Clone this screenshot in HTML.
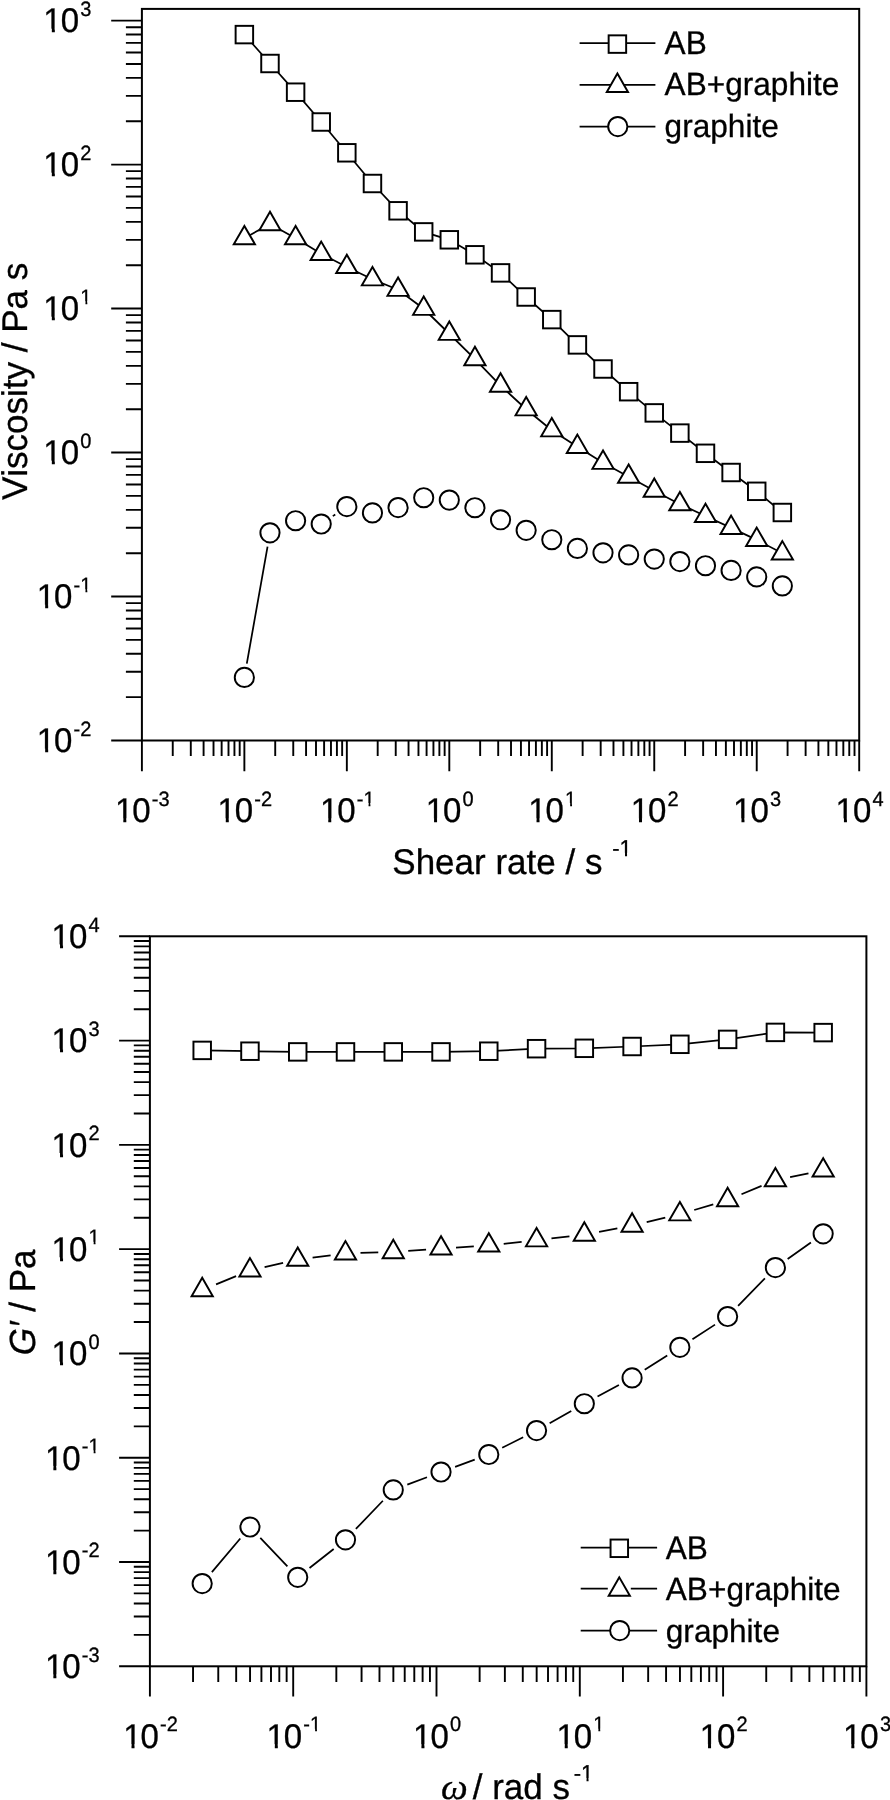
<!DOCTYPE html>
<html><head><meta charset="utf-8"><title>Viscosity and G' plots</title>
<style>html,body{margin:0;padding:0;background:#fff;}body{width:890px;height:1800px;overflow:hidden;}svg{display:block;will-change:transform;}text{font-family:"Liberation Sans", sans-serif;fill:#000;stroke:#000;stroke-width:0.3px;font-kerning:none;text-rendering:geometricPrecision;}.ax{stroke:#000;stroke-width:2.0;fill:none;stroke-linecap:square;}.tk{stroke:#000;stroke-width:1.9;fill:none;}.ln{stroke:#000;stroke-width:1.75;fill:none;}.mk{stroke:#000;stroke-width:1.95;fill:#fff;stroke-linejoin:miter;}</style></head><body>
<svg width="890" height="1800" viewBox="0 0 890 1800">
<rect x="0" y="0" width="890" height="1800" fill="#fff"/>

<path d="M111.2 740.5H141.9M125.9 697.16H141.9M125.9 671.8H141.9M125.9 653.82H141.9M125.9 639.86H141.9M125.9 628.46H141.9M125.9 618.82H141.9M125.9 610.47H141.9M125.9 603.11H141.9M111.2 596.52H141.9M125.9 553.18H141.9M125.9 527.82H141.9M125.9 509.84H141.9M125.9 495.88H141.9M125.9 484.48H141.9M125.9 474.84H141.9M125.9 466.49H141.9M125.9 459.13H141.9M111.2 452.54H141.9M125.9 409.2H141.9M125.9 383.84H141.9M125.9 365.86H141.9M125.9 351.9H141.9M125.9 340.5H141.9M125.9 330.86H141.9M125.9 322.51H141.9M125.9 315.15H141.9M111.2 308.56H141.9M125.9 265.22H141.9M125.9 239.86H141.9M125.9 221.88H141.9M125.9 207.92H141.9M125.9 196.52H141.9M125.9 186.88H141.9M125.9 178.53H141.9M125.9 171.17H141.9M111.2 164.58H141.9M125.9 121.24H141.9M125.9 95.88H141.9M125.9 77.9H141.9M125.9 63.94H141.9M125.9 52.54H141.9M125.9 42.9H141.9M125.9 34.55H141.9M125.9 27.19H141.9M111.2 20.6H141.9M141.9 740.5V771.2M172.75 740.5V756.1M190.79 740.5V756.1M203.59 740.5V756.1M213.52 740.5V756.1M221.64 740.5V756.1M228.5 740.5V756.1M234.44 740.5V756.1M239.68 740.5V756.1M244.37 740.5V771.2M275.22 740.5V756.1M293.26 740.5V756.1M306.07 740.5V756.1M316 740.5V756.1M324.11 740.5V756.1M330.97 740.5V756.1M336.91 740.5V756.1M342.15 740.5V756.1M346.84 740.5V771.2M377.69 740.5V756.1M395.73 740.5V756.1M408.54 740.5V756.1M418.47 740.5V756.1M426.58 740.5V756.1M433.44 740.5V756.1M439.38 740.5V756.1M444.63 740.5V756.1M449.31 740.5V771.2M480.16 740.5V756.1M498.21 740.5V756.1M511.01 740.5V756.1M520.94 740.5V756.1M529.05 740.5V756.1M535.91 740.5V756.1M541.86 740.5V756.1M547.1 740.5V756.1M551.79 740.5V771.2M582.63 740.5V756.1M600.68 740.5V756.1M613.48 740.5V756.1M623.41 740.5V756.1M631.52 740.5V756.1M638.38 740.5V756.1M644.33 740.5V756.1M649.57 740.5V756.1M654.26 740.5V771.2M685.1 740.5V756.1M703.15 740.5V756.1M715.95 740.5V756.1M725.88 740.5V756.1M734 740.5V756.1M740.86 740.5V756.1M746.8 740.5V756.1M752.04 740.5V756.1M756.73 740.5V771.2M787.58 740.5V756.1M805.62 740.5V756.1M818.42 740.5V756.1M828.35 740.5V756.1M836.47 740.5V756.1M843.33 740.5V756.1M849.27 740.5V756.1M854.51 740.5V756.1M859.2 740.5V771.2" class="tk"/>
<rect x="141.9" y="8.9" width="717.3" height="731.6" class="ax"/>
<text x="0" y="0" text-anchor="end" transform="translate(90.4 752.3) scale(1 1.040)"><tspan font-size="33"><tspan dx="1">1</tspan><tspan dx="-1">0</tspan></tspan><tspan font-size="20" dy="-15.87" dx="1.2">-2</tspan></text><g fill="#fff"><rect x="38.03" y="748.62" width="7.13" height="5.28"/><rect x="48.18" y="748.62" width="6.87" height="5.28"/></g>
<text x="0" y="0" text-anchor="end" transform="translate(90.4 608.32) scale(1 1.040)"><tspan font-size="33"><tspan dx="1">1</tspan><tspan dx="-1">0</tspan></tspan><tspan font-size="20" dy="-15.87" dx="1.2">-1</tspan></text><g fill="#fff"><rect x="38.03" y="604.64" width="7.13" height="5.28"/><rect x="48.18" y="604.64" width="6.87" height="5.28"/><rect x="80.64" y="589.19" width="4.81" height="4.22"/><rect x="87.32" y="589.19" width="4.66" height="4.22"/></g>
<text x="0" y="0" text-anchor="end" transform="translate(90.4 464.34) scale(1 1.040)"><tspan font-size="33"><tspan dx="1">1</tspan><tspan dx="-1">0</tspan></tspan><tspan font-size="20" dy="-15.87" dx="1.2">0</tspan></text><g fill="#fff"><rect x="44.69" y="460.66" width="7.13" height="5.28"/><rect x="54.84" y="460.66" width="6.87" height="5.28"/></g>
<text x="0" y="0" text-anchor="end" transform="translate(90.4 320.36) scale(1 1.040)"><tspan font-size="33"><tspan dx="1">1</tspan><tspan dx="-1">0</tspan></tspan><tspan font-size="20" dy="-15.87" dx="1.2">1</tspan></text><g fill="#fff"><rect x="44.69" y="316.68" width="7.13" height="5.28"/><rect x="54.84" y="316.68" width="6.87" height="5.28"/><rect x="80.64" y="301.24" width="4.81" height="4.22"/><rect x="87.32" y="301.24" width="4.66" height="4.22"/></g>
<text x="0" y="0" text-anchor="end" transform="translate(90.4 176.38) scale(1 1.040)"><tspan font-size="33"><tspan dx="1">1</tspan><tspan dx="-1">0</tspan></tspan><tspan font-size="20" dy="-15.87" dx="1.2">2</tspan></text><g fill="#fff"><rect x="44.69" y="172.7" width="7.13" height="5.28"/><rect x="54.84" y="172.7" width="6.87" height="5.28"/></g>
<text x="0" y="0" text-anchor="end" transform="translate(90.4 32.4) scale(1 1.040)"><tspan font-size="33"><tspan dx="1">1</tspan><tspan dx="-1">0</tspan></tspan><tspan font-size="20" dy="-15.87" dx="1.2">3</tspan></text><g fill="#fff"><rect x="44.69" y="28.72" width="7.13" height="5.28"/><rect x="54.84" y="28.72" width="6.87" height="5.28"/></g>
<text x="0" y="0" text-anchor="middle" transform="translate(141.3 822.1) scale(1 1.040)"><tspan font-size="33"><tspan dx="1">1</tspan><tspan dx="-1">0</tspan></tspan><tspan font-size="20" dy="-15.87" dx="1.2">-3</tspan></text><g fill="#fff"><rect x="116.17" y="818.42" width="7.13" height="5.28"/><rect x="126.32" y="818.42" width="6.87" height="5.28"/></g>
<text x="0" y="0" text-anchor="middle" transform="translate(243.77 822.1) scale(1 1.040)"><tspan font-size="33"><tspan dx="1">1</tspan><tspan dx="-1">0</tspan></tspan><tspan font-size="20" dy="-15.87" dx="1.2">-2</tspan></text><g fill="#fff"><rect x="218.64" y="818.42" width="7.13" height="5.28"/><rect x="228.79" y="818.42" width="6.87" height="5.28"/></g>
<text x="0" y="0" text-anchor="middle" transform="translate(346.24 822.1) scale(1 1.040)"><tspan font-size="33"><tspan dx="1">1</tspan><tspan dx="-1">0</tspan></tspan><tspan font-size="20" dy="-15.87" dx="1.2">-1</tspan></text><g fill="#fff"><rect x="321.12" y="818.42" width="7.13" height="5.28"/><rect x="331.26" y="818.42" width="6.87" height="5.28"/><rect x="363.73" y="802.98" width="4.81" height="4.22"/><rect x="370.41" y="802.98" width="4.66" height="4.22"/></g>
<text x="0" y="0" text-anchor="middle" transform="translate(448.71 822.1) scale(1 1.040)"><tspan font-size="33"><tspan dx="1">1</tspan><tspan dx="-1">0</tspan></tspan><tspan font-size="20" dy="-15.87" dx="1.2">0</tspan></text><g fill="#fff"><rect x="426.92" y="818.42" width="7.13" height="5.28"/><rect x="437.06" y="818.42" width="6.87" height="5.28"/></g>
<text x="0" y="0" text-anchor="middle" transform="translate(551.19 822.1) scale(1 1.040)"><tspan font-size="33"><tspan dx="1">1</tspan><tspan dx="-1">0</tspan></tspan><tspan font-size="20" dy="-15.87" dx="1.2">1</tspan></text><g fill="#fff"><rect x="529.39" y="818.42" width="7.13" height="5.28"/><rect x="539.54" y="818.42" width="6.87" height="5.28"/><rect x="565.34" y="802.98" width="4.81" height="4.22"/><rect x="572.02" y="802.98" width="4.66" height="4.22"/></g>
<text x="0" y="0" text-anchor="middle" transform="translate(653.66 822.1) scale(1 1.040)"><tspan font-size="33"><tspan dx="1">1</tspan><tspan dx="-1">0</tspan></tspan><tspan font-size="20" dy="-15.87" dx="1.2">2</tspan></text><g fill="#fff"><rect x="631.86" y="818.42" width="7.13" height="5.28"/><rect x="642.01" y="818.42" width="6.87" height="5.28"/></g>
<text x="0" y="0" text-anchor="middle" transform="translate(756.13 822.1) scale(1 1.040)"><tspan font-size="33"><tspan dx="1">1</tspan><tspan dx="-1">0</tspan></tspan><tspan font-size="20" dy="-15.87" dx="1.2">3</tspan></text><g fill="#fff"><rect x="734.33" y="818.42" width="7.13" height="5.28"/><rect x="744.48" y="818.42" width="6.87" height="5.28"/></g>
<text x="0" y="0" text-anchor="middle" transform="translate(858.6 822.1) scale(1 1.040)"><tspan font-size="33"><tspan dx="1">1</tspan><tspan dx="-1">0</tspan></tspan><tspan font-size="20" dy="-15.87" dx="1.2">4</tspan></text><g fill="#fff"><rect x="836.8" y="818.42" width="7.13" height="5.28"/><rect x="846.95" y="818.42" width="6.87" height="5.28"/></g>
<text x="0" y="0" text-anchor="start" transform="translate(392.3 873.8) scale(1 1.020)"><tspan font-size="35">Shear rate / s</tspan></text>
<text x="0" y="0" text-anchor="start" transform="translate(612.2 855.6) scale(1 1.040)"><tspan font-size="22">-1</tspan></text><g fill="#fff"><rect x="619.84" y="852.81" width="5.17" height="4.39"/><rect x="627.05" y="852.81" width="5" height="4.39"/></g>
<text x="0" y="0" text-anchor="start" transform="translate(27 500.1) rotate(-90) scale(1 1.020)"><tspan font-size="35">Viscosity / Pa s</tspan></text>
<polyline points="244.37,34.6 269.99,63.5 295.61,92.2 321.23,122 346.84,152.8 372.46,183.5 398.08,210.8 423.7,231.9 449.31,239.8 474.93,254.8 500.55,272.9 526.17,297 551.79,319.6 577.4,344.9 603.02,369 628.64,391.7 654.26,412.9 679.88,433.1 705.49,453.3 731.11,472.5 756.73,491.3 782.35,512.5" class="ln"/>
<polyline points="244.37,238.15 269.99,224.05 295.61,238.15 321.23,253.85 346.84,266.95 372.46,279.25 398.08,289.75 423.7,308.75 449.31,333.75 474.93,359.05 500.55,385.55 526.17,409.25 551.79,430.25 577.4,446.85 603.02,462.75 628.64,476.65 654.26,490.65 679.88,504.15 705.49,515.95 731.11,527.85 756.73,539.85 782.35,553.35" class="ln"/>
<path d="M246.81 663.61L267.55 546.59M332.81 516.13L335.26 514.47" class="ln"/>
<rect x="235.62" y="25.85" width="17.5" height="17.5" class="mk"/><rect x="261.24" y="54.75" width="17.5" height="17.5" class="mk"/><rect x="286.86" y="83.45" width="17.5" height="17.5" class="mk"/><rect x="312.48" y="113.25" width="17.5" height="17.5" class="mk"/><rect x="338.09" y="144.05" width="17.5" height="17.5" class="mk"/><rect x="363.71" y="174.75" width="17.5" height="17.5" class="mk"/><rect x="389.33" y="202.05" width="17.5" height="17.5" class="mk"/><rect x="414.95" y="223.15" width="17.5" height="17.5" class="mk"/><rect x="440.56" y="231.05" width="17.5" height="17.5" class="mk"/><rect x="466.18" y="246.05" width="17.5" height="17.5" class="mk"/><rect x="491.8" y="264.15" width="17.5" height="17.5" class="mk"/><rect x="517.42" y="288.25" width="17.5" height="17.5" class="mk"/><rect x="543.04" y="310.85" width="17.5" height="17.5" class="mk"/><rect x="568.65" y="336.15" width="17.5" height="17.5" class="mk"/><rect x="594.27" y="360.25" width="17.5" height="17.5" class="mk"/><rect x="619.89" y="382.95" width="17.5" height="17.5" class="mk"/><rect x="645.51" y="404.15" width="17.5" height="17.5" class="mk"/><rect x="671.12" y="424.35" width="17.5" height="17.5" class="mk"/><rect x="696.74" y="444.55" width="17.5" height="17.5" class="mk"/><rect x="722.36" y="463.75" width="17.5" height="17.5" class="mk"/><rect x="747.98" y="482.55" width="17.5" height="17.5" class="mk"/><rect x="773.6" y="503.75" width="17.5" height="17.5" class="mk"/>
<polygon points="244.37,225.91 233.77,244.27 254.97,244.27" class="mk"/><polygon points="269.99,211.81 259.39,230.17 280.59,230.17" class="mk"/><polygon points="295.61,225.91 285.01,244.27 306.21,244.27" class="mk"/><polygon points="321.23,241.61 310.62,259.97 331.83,259.97" class="mk"/><polygon points="346.84,254.71 336.24,273.07 357.44,273.07" class="mk"/><polygon points="372.46,267.01 361.86,285.37 383.06,285.37" class="mk"/><polygon points="398.08,277.51 387.48,295.87 408.68,295.87" class="mk"/><polygon points="423.7,296.51 413.1,314.87 434.3,314.87" class="mk"/><polygon points="449.31,321.51 438.71,339.87 459.91,339.87" class="mk"/><polygon points="474.93,346.81 464.33,365.17 485.53,365.17" class="mk"/><polygon points="500.55,373.31 489.95,391.67 511.15,391.67" class="mk"/><polygon points="526.17,397.01 515.57,415.37 536.77,415.37" class="mk"/><polygon points="551.79,418.01 541.19,436.37 562.39,436.37" class="mk"/><polygon points="577.4,434.61 566.8,452.97 588,452.97" class="mk"/><polygon points="603.02,450.51 592.42,468.87 613.62,468.87" class="mk"/><polygon points="628.64,464.41 618.04,482.77 639.24,482.77" class="mk"/><polygon points="654.26,478.41 643.66,496.77 664.86,496.77" class="mk"/><polygon points="679.88,491.91 669.27,510.27 690.48,510.27" class="mk"/><polygon points="705.49,503.71 694.89,522.07 716.09,522.07" class="mk"/><polygon points="731.11,515.61 720.51,533.97 741.71,533.97" class="mk"/><polygon points="756.73,527.61 746.13,545.97 767.33,545.97" class="mk"/><polygon points="782.35,541.11 771.75,559.47 792.95,559.47" class="mk"/>
<circle cx="244.37" cy="677.4" r="9.6" class="mk"/><circle cx="269.99" cy="532.8" r="9.6" class="mk"/><circle cx="295.61" cy="520.7" r="9.6" class="mk"/><circle cx="321.23" cy="524" r="9.6" class="mk"/><circle cx="346.84" cy="506.6" r="9.6" class="mk"/><circle cx="372.46" cy="512.9" r="9.6" class="mk"/><circle cx="398.08" cy="507.6" r="9.6" class="mk"/><circle cx="423.7" cy="497.7" r="9.6" class="mk"/><circle cx="449.31" cy="500.1" r="9.6" class="mk"/><circle cx="474.93" cy="507.7" r="9.6" class="mk"/><circle cx="500.55" cy="519.8" r="9.6" class="mk"/><circle cx="526.17" cy="530.3" r="9.6" class="mk"/><circle cx="551.79" cy="539.7" r="9.6" class="mk"/><circle cx="577.4" cy="548.4" r="9.6" class="mk"/><circle cx="603.02" cy="552.8" r="9.6" class="mk"/><circle cx="628.64" cy="554.9" r="9.6" class="mk"/><circle cx="654.26" cy="559.1" r="9.6" class="mk"/><circle cx="679.88" cy="561.6" r="9.6" class="mk"/><circle cx="705.49" cy="565.7" r="9.6" class="mk"/><circle cx="731.11" cy="570.4" r="9.6" class="mk"/><circle cx="756.73" cy="576.9" r="9.6" class="mk"/><circle cx="782.35" cy="585.9" r="9.6" class="mk"/>
<path d="M579.6 43H655.4" class="ln"/>
<path d="M579.6 84.8H655.4" class="ln"/>
<path d="M579.6 126.6H655.4" class="ln"/>
<rect x="608.65" y="35.35" width="17.5" height="17.5" class="mk"/>
<polygon points="617.4,73.56 606.8,91.92 628,91.92" class="mk"/>
<circle cx="617.8" cy="126.6" r="9.6" class="mk"/>
<text x="0" y="0" text-anchor="start" transform="translate(664.6 53.5) scale(1 1.040)"><tspan font-size="31.6">AB</tspan></text>
<text x="0" y="0" text-anchor="start" transform="translate(664.6 95.3) scale(1 1.020)"><tspan font-size="31.6">AB+graphite</tspan></text>
<text x="0" y="0" text-anchor="start" transform="translate(664.6 137.1) scale(1 1.020)"><tspan font-size="31.6">graphite</tspan></text>
<path d="M119.1 1666.3H149.9M133.8 1634.91H149.9M133.8 1616.54H149.9M133.8 1603.51H149.9M133.8 1593.41H149.9M133.8 1585.15H149.9M133.8 1578.17H149.9M133.8 1572.12H149.9M133.8 1566.79H149.9M119.1 1562.01H149.9M133.8 1530.62H149.9M133.8 1512.26H149.9M133.8 1499.23H149.9M133.8 1489.12H149.9M133.8 1480.86H149.9M133.8 1473.88H149.9M133.8 1467.83H149.9M133.8 1462.5H149.9M119.1 1457.73H149.9M133.8 1426.34H149.9M133.8 1407.97H149.9M133.8 1394.94H149.9M133.8 1384.84H149.9M133.8 1376.58H149.9M133.8 1369.6H149.9M133.8 1363.55H149.9M133.8 1358.21H149.9M119.1 1353.44H149.9M133.8 1322.05H149.9M133.8 1303.69H149.9M133.8 1290.66H149.9M133.8 1280.55H149.9M133.8 1272.29H149.9M133.8 1265.31H149.9M133.8 1259.26H149.9M133.8 1253.93H149.9M119.1 1249.16H149.9M133.8 1217.76H149.9M133.8 1199.4H149.9M133.8 1186.37H149.9M133.8 1176.26H149.9M133.8 1168.01H149.9M133.8 1161.03H149.9M133.8 1154.98H149.9M133.8 1149.64H149.9M119.1 1144.87H149.9M133.8 1113.48H149.9M133.8 1095.11H149.9M133.8 1082.09H149.9M133.8 1071.98H149.9M133.8 1063.72H149.9M133.8 1056.74H149.9M133.8 1050.69H149.9M133.8 1045.36H149.9M119.1 1040.59H149.9M133.8 1009.19H149.9M133.8 990.83H149.9M133.8 977.8H149.9M133.8 967.69H149.9M133.8 959.44H149.9M133.8 952.45H149.9M133.8 946.41H149.9M133.8 941.07H149.9M119.1 936.3H149.9M149.9 1666.3V1696.4M193.04 1666.3V1682.0M218.27 1666.3V1682.0M236.18 1666.3V1682.0M250.06 1666.3V1682.0M261.41 1666.3V1682.0M271 1666.3V1682.0M279.31 1666.3V1682.0M286.64 1666.3V1682.0M293.2 1666.3V1696.4M336.34 1666.3V1682.0M361.57 1666.3V1682.0M379.48 1666.3V1682.0M393.36 1666.3V1682.0M404.71 1666.3V1682.0M414.3 1666.3V1682.0M422.61 1666.3V1682.0M429.94 1666.3V1682.0M436.5 1666.3V1696.4M479.64 1666.3V1682.0M504.87 1666.3V1682.0M522.78 1666.3V1682.0M536.66 1666.3V1682.0M548.01 1666.3V1682.0M557.6 1666.3V1682.0M565.91 1666.3V1682.0M573.24 1666.3V1682.0M579.8 1666.3V1696.4M622.94 1666.3V1682.0M648.17 1666.3V1682.0M666.08 1666.3V1682.0M679.96 1666.3V1682.0M691.31 1666.3V1682.0M700.9 1666.3V1682.0M709.21 1666.3V1682.0M716.54 1666.3V1682.0M723.1 1666.3V1696.4M766.24 1666.3V1682.0M791.47 1666.3V1682.0M809.38 1666.3V1682.0M823.26 1666.3V1682.0M834.61 1666.3V1682.0M844.2 1666.3V1682.0M852.51 1666.3V1682.0M859.84 1666.3V1682.0M866.4 1666.3V1696.4" class="tk"/>
<rect x="149.9" y="936.3" width="716.5" height="730" class="ax"/>
<text x="0" y="0" text-anchor="end" transform="translate(98.6 1678.1) scale(1 1.040)"><tspan font-size="33"><tspan dx="1">1</tspan><tspan dx="-1">0</tspan></tspan><tspan font-size="20" dy="-15.87" dx="1.2">-3</tspan></text><g fill="#fff"><rect x="46.23" y="1674.42" width="7.13" height="5.28"/><rect x="56.38" y="1674.42" width="6.87" height="5.28"/></g>
<text x="0" y="0" text-anchor="end" transform="translate(98.6 1573.81) scale(1 1.040)"><tspan font-size="33"><tspan dx="1">1</tspan><tspan dx="-1">0</tspan></tspan><tspan font-size="20" dy="-15.87" dx="1.2">-2</tspan></text><g fill="#fff"><rect x="46.23" y="1570.13" width="7.13" height="5.28"/><rect x="56.38" y="1570.13" width="6.87" height="5.28"/></g>
<text x="0" y="0" text-anchor="end" transform="translate(98.6 1469.53) scale(1 1.040)"><tspan font-size="33"><tspan dx="1">1</tspan><tspan dx="-1">0</tspan></tspan><tspan font-size="20" dy="-15.87" dx="1.2">-1</tspan></text><g fill="#fff"><rect x="46.23" y="1465.85" width="7.13" height="5.28"/><rect x="56.38" y="1465.85" width="6.87" height="5.28"/><rect x="88.84" y="1450.4" width="4.81" height="4.22"/><rect x="95.52" y="1450.4" width="4.66" height="4.22"/></g>
<text x="0" y="0" text-anchor="end" transform="translate(98.6 1365.24) scale(1 1.040)"><tspan font-size="33"><tspan dx="1">1</tspan><tspan dx="-1">0</tspan></tspan><tspan font-size="20" dy="-15.87" dx="1.2">0</tspan></text><g fill="#fff"><rect x="52.89" y="1361.56" width="7.13" height="5.28"/><rect x="63.04" y="1361.56" width="6.87" height="5.28"/></g>
<text x="0" y="0" text-anchor="end" transform="translate(98.6 1260.96) scale(1 1.040)"><tspan font-size="33"><tspan dx="1">1</tspan><tspan dx="-1">0</tspan></tspan><tspan font-size="20" dy="-15.87" dx="1.2">1</tspan></text><g fill="#fff"><rect x="52.89" y="1257.28" width="7.13" height="5.28"/><rect x="63.04" y="1257.28" width="6.87" height="5.28"/><rect x="88.84" y="1241.83" width="4.81" height="4.22"/><rect x="95.52" y="1241.83" width="4.66" height="4.22"/></g>
<text x="0" y="0" text-anchor="end" transform="translate(98.6 1156.67) scale(1 1.040)"><tspan font-size="33"><tspan dx="1">1</tspan><tspan dx="-1">0</tspan></tspan><tspan font-size="20" dy="-15.87" dx="1.2">2</tspan></text><g fill="#fff"><rect x="52.89" y="1152.99" width="7.13" height="5.28"/><rect x="63.04" y="1152.99" width="6.87" height="5.28"/></g>
<text x="0" y="0" text-anchor="end" transform="translate(98.6 1052.39) scale(1 1.040)"><tspan font-size="33"><tspan dx="1">1</tspan><tspan dx="-1">0</tspan></tspan><tspan font-size="20" dy="-15.87" dx="1.2">3</tspan></text><g fill="#fff"><rect x="52.89" y="1048.7" width="7.13" height="5.28"/><rect x="63.04" y="1048.7" width="6.87" height="5.28"/></g>
<text x="0" y="0" text-anchor="end" transform="translate(98.6 948.1) scale(1 1.040)"><tspan font-size="33"><tspan dx="1">1</tspan><tspan dx="-1">0</tspan></tspan><tspan font-size="20" dy="-15.87" dx="1.2">4</tspan></text><g fill="#fff"><rect x="52.89" y="944.42" width="7.13" height="5.28"/><rect x="63.04" y="944.42" width="6.87" height="5.28"/></g>
<text x="0" y="0" text-anchor="middle" transform="translate(149.5 1747.9) scale(1 1.040)"><tspan font-size="33"><tspan dx="1">1</tspan><tspan dx="-1">0</tspan></tspan><tspan font-size="20" dy="-15.87" dx="1.2">-2</tspan></text><g fill="#fff"><rect x="124.37" y="1744.22" width="7.13" height="5.28"/><rect x="134.52" y="1744.22" width="6.87" height="5.28"/></g>
<text x="0" y="0" text-anchor="middle" transform="translate(292.8 1747.9) scale(1 1.040)"><tspan font-size="33"><tspan dx="1">1</tspan><tspan dx="-1">0</tspan></tspan><tspan font-size="20" dy="-15.87" dx="1.2">-1</tspan></text><g fill="#fff"><rect x="267.67" y="1744.22" width="7.13" height="5.28"/><rect x="277.82" y="1744.22" width="6.87" height="5.28"/><rect x="310.29" y="1728.78" width="4.81" height="4.22"/><rect x="316.97" y="1728.78" width="4.66" height="4.22"/></g>
<text x="0" y="0" text-anchor="middle" transform="translate(436.1 1747.9) scale(1 1.040)"><tspan font-size="33"><tspan dx="1">1</tspan><tspan dx="-1">0</tspan></tspan><tspan font-size="20" dy="-15.87" dx="1.2">0</tspan></text><g fill="#fff"><rect x="414.3" y="1744.22" width="7.13" height="5.28"/><rect x="424.45" y="1744.22" width="6.87" height="5.28"/></g>
<text x="0" y="0" text-anchor="middle" transform="translate(579.4 1747.9) scale(1 1.040)"><tspan font-size="33"><tspan dx="1">1</tspan><tspan dx="-1">0</tspan></tspan><tspan font-size="20" dy="-15.87" dx="1.2">1</tspan></text><g fill="#fff"><rect x="557.6" y="1744.22" width="7.13" height="5.28"/><rect x="567.75" y="1744.22" width="6.87" height="5.28"/><rect x="593.56" y="1728.78" width="4.81" height="4.22"/><rect x="600.24" y="1728.78" width="4.66" height="4.22"/></g>
<text x="0" y="0" text-anchor="middle" transform="translate(722.7 1747.9) scale(1 1.040)"><tspan font-size="33"><tspan dx="1">1</tspan><tspan dx="-1">0</tspan></tspan><tspan font-size="20" dy="-15.87" dx="1.2">2</tspan></text><g fill="#fff"><rect x="700.9" y="1744.22" width="7.13" height="5.28"/><rect x="711.05" y="1744.22" width="6.87" height="5.28"/></g>
<text x="0" y="0" text-anchor="middle" transform="translate(866 1747.9) scale(1 1.040)"><tspan font-size="33"><tspan dx="1">1</tspan><tspan dx="-1">0</tspan></tspan><tspan font-size="20" dy="-15.87" dx="1.2">3</tspan></text><g fill="#fff"><rect x="844.2" y="1744.22" width="7.13" height="5.28"/><rect x="854.35" y="1744.22" width="6.87" height="5.28"/></g>
<text x="0" y="0" text-anchor="start" transform="translate(441 1799) scale(1.08 1.050)" style="font-family:'Liberation Serif',serif;font-style:italic"><tspan font-size="35">ω</tspan></text>
<text x="0" y="0" text-anchor="start" transform="translate(472.7 1799) scale(1 1.020)"><tspan font-size="35">/ rad s</tspan></text>
<text x="0" y="0" text-anchor="start" transform="translate(573.7 1781) scale(1 1.040)"><tspan font-size="22">-1</tspan></text><g fill="#fff"><rect x="581.34" y="1778.21" width="5.17" height="4.39"/><rect x="588.55" y="1778.21" width="5" height="4.39"/></g>
<text x="0" y="0" transform="translate(35.3 1355.2) rotate(-90) scale(1 1.04)"><tspan font-size="35" style="font-style:italic">G&#8242;</tspan><tspan font-size="35"> / Pa</tspan></text>
<polyline points="202.2,1050.4 249.97,1051.2 297.73,1051.9 345.5,1051.9 393.27,1051.9 441.03,1051.9 488.8,1051.2 536.57,1048.7 584.33,1048.3 632.1,1046.5 679.87,1044.3 727.63,1039.4 775.4,1032.4 823.17,1032.6" class="ln"/>
<path d="M216.07 1284.33L236.1 1276.07M264.6 1267.07L283.1 1262.93M312.6 1257.69L330.63 1255.31M360.49 1252.94L378.27 1252.46M408.22 1250.92L426.08 1249.57M456 1247.51L473.83 1246.39M503.71 1243.82L521.65 1241.87M551.46 1238.47L569.44 1236.32M599.07 1231.77L617.36 1228.32M646.7 1222.09L665.27 1217.7M694.24 1209.97L713.26 1204.32M741.48 1194.28L761.55 1185.92M790.1 1177.16L808.47 1173.43" class="ln"/>
<path d="M211.87 1572.14L240.29 1538.46M260.3 1537.88L287.4 1566.42M309.53 1568.04L333.7 1549.06M355.87 1528.96L382.89 1500.74M407.31 1484.64L426.99 1477.26M455.12 1466.84L474.72 1459.66M502.21 1447.79L523.15 1437.31M549.64 1423.24L571.26 1411.06M597.53 1396.57L618.9 1385.03M644.73 1369.81L667.24 1355.39M692.47 1339.17L715.03 1324.63M738.11 1305.77L764.92 1278.33M787.64 1258.94L810.92 1242.46" class="ln"/>
<rect x="193.45" y="1041.65" width="17.5" height="17.5" class="mk"/><rect x="241.22" y="1042.45" width="17.5" height="17.5" class="mk"/><rect x="288.98" y="1043.15" width="17.5" height="17.5" class="mk"/><rect x="336.75" y="1043.15" width="17.5" height="17.5" class="mk"/><rect x="384.52" y="1043.15" width="17.5" height="17.5" class="mk"/><rect x="432.28" y="1043.15" width="17.5" height="17.5" class="mk"/><rect x="480.05" y="1042.45" width="17.5" height="17.5" class="mk"/><rect x="527.82" y="1039.95" width="17.5" height="17.5" class="mk"/><rect x="575.58" y="1039.55" width="17.5" height="17.5" class="mk"/><rect x="623.35" y="1037.75" width="17.5" height="17.5" class="mk"/><rect x="671.12" y="1035.55" width="17.5" height="17.5" class="mk"/><rect x="718.88" y="1030.65" width="17.5" height="17.5" class="mk"/><rect x="766.65" y="1023.65" width="17.5" height="17.5" class="mk"/><rect x="814.42" y="1023.85" width="17.5" height="17.5" class="mk"/>
<polygon points="202.2,1277.81 191.6,1296.17 212.8,1296.17" class="mk"/><polygon points="249.97,1258.11 239.37,1276.47 260.57,1276.47" class="mk"/><polygon points="297.73,1247.41 287.13,1265.77 308.33,1265.77" class="mk"/><polygon points="345.5,1241.11 334.9,1259.47 356.1,1259.47" class="mk"/><polygon points="393.27,1239.81 382.67,1258.17 403.87,1258.17" class="mk"/><polygon points="441.03,1236.21 430.43,1254.57 451.63,1254.57" class="mk"/><polygon points="488.8,1233.21 478.2,1251.57 499.4,1251.57" class="mk"/><polygon points="536.57,1228.01 525.97,1246.37 547.17,1246.37" class="mk"/><polygon points="584.33,1222.31 573.73,1240.67 594.93,1240.67" class="mk"/><polygon points="632.1,1213.31 621.5,1231.67 642.7,1231.67" class="mk"/><polygon points="679.87,1202.01 669.27,1220.37 690.47,1220.37" class="mk"/><polygon points="727.63,1187.81 717.03,1206.17 738.23,1206.17" class="mk"/><polygon points="775.4,1167.91 764.8,1186.27 786,1186.27" class="mk"/><polygon points="823.17,1158.21 812.57,1176.57 833.77,1176.57" class="mk"/>
<circle cx="202.2" cy="1583.6" r="9.6" class="mk"/><circle cx="249.97" cy="1527" r="9.6" class="mk"/><circle cx="297.73" cy="1577.3" r="9.6" class="mk"/><circle cx="345.5" cy="1539.8" r="9.6" class="mk"/><circle cx="393.27" cy="1489.9" r="9.6" class="mk"/><circle cx="441.03" cy="1472" r="9.6" class="mk"/><circle cx="488.8" cy="1454.5" r="9.6" class="mk"/><circle cx="536.57" cy="1430.6" r="9.6" class="mk"/><circle cx="584.33" cy="1403.7" r="9.6" class="mk"/><circle cx="632.1" cy="1377.9" r="9.6" class="mk"/><circle cx="679.87" cy="1347.3" r="9.6" class="mk"/><circle cx="727.63" cy="1316.5" r="9.6" class="mk"/><circle cx="775.4" cy="1267.6" r="9.6" class="mk"/><circle cx="823.17" cy="1233.8" r="9.6" class="mk"/>
<path d="M580.7 1547.6H657.1" class="ln"/>
<path d="M580.7 1588.6H607.8M630.8 1588.6H657.1" class="ln"/>
<path d="M580.7 1630.6H657.1" class="ln"/>
<rect x="610.55" y="1539.55" width="17.5" height="17.5" class="mk"/>
<polygon points="619.3,1577.36 608.7,1595.72 629.9,1595.72" class="mk"/>
<circle cx="619.7" cy="1630.6" r="9.6" class="mk"/>
<text x="0" y="0" text-anchor="start" transform="translate(665.8 1558.6) scale(1 1.040)"><tspan font-size="31.6">AB</tspan></text>
<text x="0" y="0" text-anchor="start" transform="translate(665.8 1599.6) scale(1 1.020)"><tspan font-size="31.6">AB+graphite</tspan></text>
<text x="0" y="0" text-anchor="start" transform="translate(665.8 1641.6) scale(1 1.020)"><tspan font-size="31.6">graphite</tspan></text>
</svg></body></html>
